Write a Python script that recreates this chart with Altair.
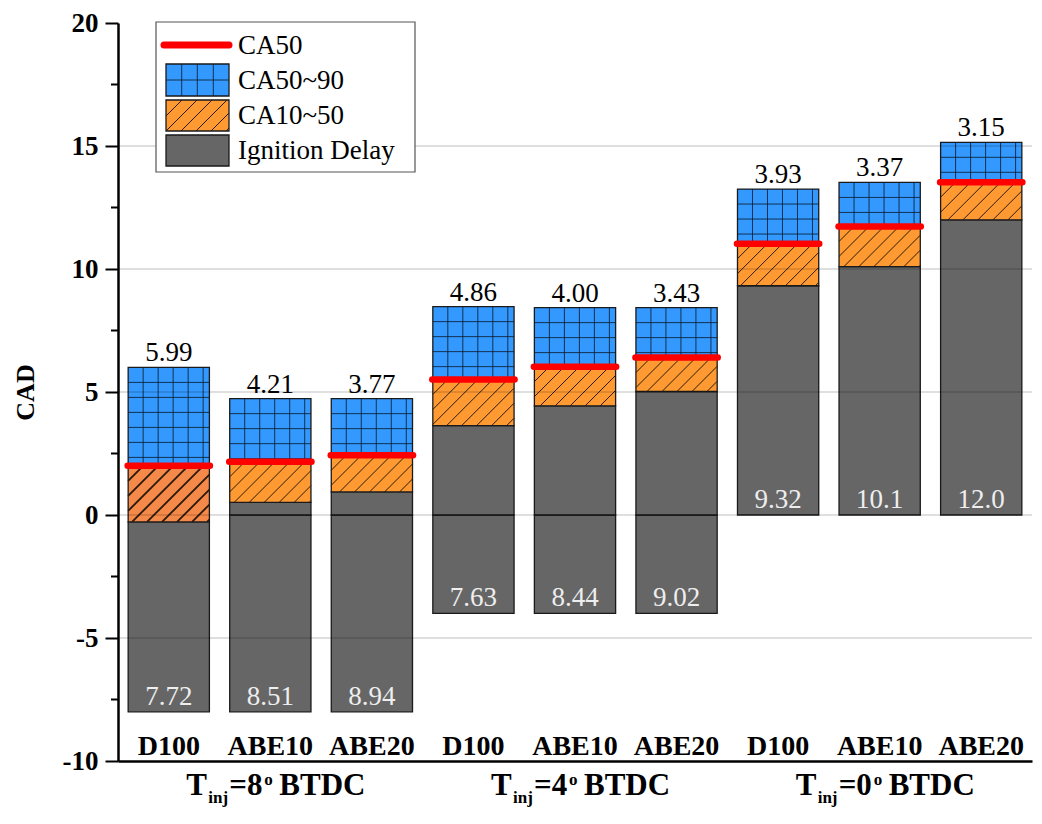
import altair as alt
import pandas as pd
import numpy as np

# ---------------- data ----------------
fuels = ["D100", "ABE10", "ABE20", "D100", "ABE10", "ABE20", "D100", "ABE10", "ABE20"]
group_inj = ["8", "4", "0"]
injection_start = [-8, -8, -8, -4, -4, -4, 0, 0, 0]
ignition_delay = [7.72, 8.51, 8.94, 7.63, 8.44, 9.02, 9.32, 10.1, 12.0]
ca50 = [2.00, 2.16, 2.43, 5.51, 6.03, 6.40, 11.03, 11.73, 13.53]
ca90 = [6.00, 4.73, 4.73, 8.47, 8.43, 8.43, 13.25, 13.52, 15.15]
top_labels = ["5.99", "4.21", "3.77", "4.86", "4.00", "3.43", "3.93", "3.37", "3.15"]
id_labels = ["7.72", "8.51", "8.94", "7.63", "8.44", "9.02", "9.32", "10.1", "12.0"]
y_major = [-10, -5, 0, 5, 10, 15, 20]
y_minor = [-7.5, -2.5, 2.5, 7.5, 12.5, 17.5]
grid_values = [-5, 0, 5, 10, 15]

# ---------------- style / layout ----------------
W, H = 914, 738
SX = W / 9.0          # px per x unit
SY = H / 30.0         # px per y unit
HALF = 0.4
SERIF = "Times New Roman, Liberation Serif, serif"
GRAY, ORANGE, ORANGE_D, BLUE, RED = "#666666", "#FF9A33", "#F5894A", "#3399FF", "#FF0000"

xs = alt.Scale(domain=[-0.5, 8.5], nice=False, zero=False)
ys = alt.Scale(domain=[-10, 20], nice=False, zero=False)
x_axis = alt.Axis(title=None, labels=False, ticks=False, grid=False,
                  domainColor="black", domainWidth=2.5)
y_axis = alt.Axis(
    values=y_major, title="CAD", grid=False, tickSize=13, tickWidth=2, tickColor="black",
    domainColor="black", domainWidth=2.5, labelFont=SERIF, labelFontWeight="bold",
    labelFontSize=27, labelColor="black", labelPadding=7, labelExpr="'' + datum.value",
    titleFont=SERIF, titleFontWeight="bold", titleFontSize=26, titleColor="black",
    titleX=-93, titleY=H / 2, titleAngle=270, titleAlign="center", titleBaseline="middle")


def X(f):
    return alt.X(f, scale=xs, axis=x_axis)


def Y(f):
    return alt.Y(f, scale=ys, axis=y_axis)


# ---------------- segments ----------------
rects = []
for i in range(9):
    s = injection_start[i]
    e = s + ignition_delay[i]
    xl, xr = i - HALF, i + HALF
    if s < 0 < e:
        rects.append(dict(x=xl, x2=xr, y=s, y2=0, seg="id"))
        rects.append(dict(x=xl, x2=xr, y=0, y2=e, seg="id"))
    else:
        rects.append(dict(x=xl, x2=xr, y=s, y2=e, seg="id"))
    rects.append(dict(x=xl, x2=xr, y=e, y2=ca50[i], seg="c1050d" if i == 0 else "c1050"))
    rects.append(dict(x=xl, x2=xr, y=ca50[i], y2=ca90[i], seg="c5090"))
rect_df = pd.DataFrame(rects)


def diag_lines(xl, xr, yb, yt, sp_px):
    k = SX / SY
    d = sp_px / SX
    hx = (yt - yb) / k
    start = xl - hx
    out = []
    n = int(np.ceil((xr - start) / d)) + 1
    for j in range(n):
        xb = start + j * d
        a = max(xl, xb)
        b = min(xr, xb + hx)
        if b - a > 1e-6:
            out.append((a, yb + (a - xb) * k, b, yb + (b - xb) * k))
    return out


hatch = []
grid_pat = []
for i in range(9):
    s = injection_start[i]
    e = s + ignition_delay[i]
    xl, xr = i - HALF, i + HALF
    w = 1.8 if i == 0 else 1.0
    for (a, b, c, d) in diag_lines(xl, xr, e, ca50[i], 15):
        hatch.append(dict(x=a, y=b, x2=c, y2=d, w=w))
    dx = 15 / SX
    j = 1
    while xl + j * dx < xr - 1e-6:
        grid_pat.append(dict(x=xl + j * dx, x2=xl + j * dx, y=ca50[i], y2=ca90[i]))
        j += 1
    dy = 15 / SY
    m = 1
    while ca90[i] - m * dy > ca50[i] + 1e-6:
        grid_pat.append(dict(x=xl, x2=xr, y=ca90[i] - m * dy, y2=ca90[i] - m * dy))
        m += 1
hatch_df = pd.DataFrame(hatch)
gridpat_df = pd.DataFrame(grid_pat)

lab_df = pd.DataFrame(dict(
    idx=list(range(9)), fuel=fuels, top=ca90, bottom=injection_start,
    toplab=top_labels, idlab=id_labels, ca50=ca50,
    l=[i - HALF - 0.005 for i in range(9)], r=[i + HALF + 0.005 for i in range(9)],
))
grp_df = pd.DataFrame(dict(idx=[1, 4, 7], g=group_inj))

# ---------------- layers ----------------
bars = alt.Chart(rect_df).mark_rect(stroke="#1a1a1a", strokeWidth=1.3).encode(
    x=X("x:Q"), x2="x2:Q", y=Y("y:Q"), y2="y2:Q",
    color=alt.Color("seg:N", scale=alt.Scale(domain=["id", "c1050", "c1050d", "c5090"],
                                             range=[GRAY, ORANGE, ORANGE_D, BLUE]), legend=None),
)

hatch_layer = alt.Chart(hatch_df).mark_rule(color="#2a1a0a").encode(
    x=X("x:Q"), y=Y("y:Q"), x2="x2:Q", y2="y2:Q",
    strokeWidth=alt.StrokeWidth("w:Q", scale=None),
)
gridpat_layer = alt.Chart(gridpat_df).mark_rule(color="#0d1f33", strokeWidth=1, opacity=0.85).encode(
    x=X("x:Q"), y=Y("y:Q"), x2="x2:Q", y2="y2:Q",
)

grid_layer = alt.Chart(pd.DataFrame({"v": grid_values})).mark_rule(
    color="black", opacity=0.25, strokeWidth=1.2).encode(
    y=Y("v:Q"), x=alt.value(0), x2=alt.value(W))

minor_ticks = alt.Chart(pd.DataFrame({"v": y_minor})).mark_rule(color="black", strokeWidth=2).encode(
    y=Y("v:Q"), x=alt.value(-7), x2=alt.value(0))

red_layer = alt.Chart(lab_df).mark_rule(color=RED, strokeWidth=6.5, strokeCap="round").encode(
    x=X("l:Q"), x2="r:Q", y=Y("ca50:Q"))

top_text = alt.Chart(lab_df).mark_text(font=SERIF, fontSize=27, color="black",
                                       baseline="alphabetic", dy=-6).encode(
    x=X("idx:Q"), y=Y("top:Q"), text="toplab:N")
bot_text = alt.Chart(lab_df).mark_text(font=SERIF, fontSize=27, color="#eeeeee",
                                       baseline="alphabetic", dy=-7).encode(
    x=X("idx:Q"), y=Y("bottom:Q"), text="idlab:N")
cat_text = alt.Chart(lab_df).mark_text(font=SERIF, fontSize=28, fontWeight="bold", color="black",
                                       baseline="middle").encode(
    x=X("idx:Q"), y=alt.value(H - 14), text="fuel:N")


def grp_piece(text_expr, dx, y, size):
    return alt.Chart(grp_df).transform_calculate(t=text_expr).mark_text(
        font=SERIF, fontSize=size, fontWeight="bold", color="black",
        align="left", baseline="alphabetic", dx=dx).encode(
        x=X("idx:Q"), y=alt.value(y), text="t:N")


TB = H + 34
grp_layers = [
    grp_piece("'T'", -84, TB, 31),
    grp_piece("'inj'", -62, TB + 8, 17),
    grp_piece("'=' + datum.g", -41, TB, 31),
    grp_piece("'o'", -6, TB - 10, 17),
    grp_piece("'BTDC'", 9, TB, 31),
]

# ---------------- legend (drawn in pixel space) ----------------
one = pd.DataFrame({"a": [0]})


def vrect(x0, x1, y0, y1, fill, stroke="#1a1a1a", sw=1.3):
    return alt.Chart(one).mark_rect(fill=fill, stroke=stroke, strokeWidth=sw).encode(
        x=alt.value(x0), x2=alt.value(x1), y=alt.value(y0), y2=alt.value(y1))


def vline(x0, y0, x1, y1, color, sw, cap="butt", op=1.0):
    return alt.Chart(one).mark_rule(color=color, strokeWidth=sw, strokeCap=cap, opacity=op).encode(
        x=alt.value(x0), x2=alt.value(x1), y=alt.value(y0), y2=alt.value(y1))


def vtext(x, y, t):
    return alt.Chart(one).mark_text(font=SERIF, fontSize=27, color="black", align="left",
                                    baseline="middle", text=t).encode(x=alt.value(x), y=alt.value(y))


LX0, LX1 = 48, 111
OY = -1
legend = [vrect(38, 297, 0 + OY, 150 + OY, "white", stroke="#555555", sw=1.2)]
legend.append(vline(46, 23 + OY, 111, 23 + OY, RED, 7, cap="round"))
legend.append(vrect(LX0, LX1, 42 + OY, 74 + OY, BLUE))
for xv in [63.7, 79.3, 95.3]:
    legend.append(vline(xv, 42 + OY, xv, 74 + OY, "#0d1f33", 1, op=0.85))
legend.append(vline(LX0, 58 + OY, LX1, 58 + OY, "#0d1f33", 1, op=0.85))
legend.append(vrect(LX0, LX1, 78 + OY, 109 + OY, ORANGE))
hx = 31
for j in range(-3, 6):
    xb = LX0 + j * 15
    a = max(LX0, xb)
    b = min(LX1, xb + hx)
    if b - a > 0.5:
        legend.append(vline(a, 109 + OY - (a - xb), b, 109 + OY - (b - xb), "#2a1a0a", 1))
legend.append(vrect(LX0, LX1, 113 + OY, 144 + OY, GRAY))
legend.append(vtext(120, 24 + OY, "CA50"))
legend.append(vtext(120, 59 + OY, "CA50~90"))
legend.append(vtext(120, 94 + OY, "CA10~50"))
legend.append(vtext(120, 129 + OY, "Ignition Delay"))

chart = alt.layer(
    bars, hatch_layer, gridpat_layer, grid_layer, minor_ticks, red_layer,
    top_text, bot_text, cat_text, *grp_layers, *legend
).properties(
    width=W, height=H,
    autosize=alt.AutoSizeParams(type="none"),
    padding={"left": 110, "top": 15, "right": 2, "bottom": 47},
    background="white",
).configure_view(stroke=None)

chart.save("out.html", embed_options={"renderer": "svg", "actions": False})
